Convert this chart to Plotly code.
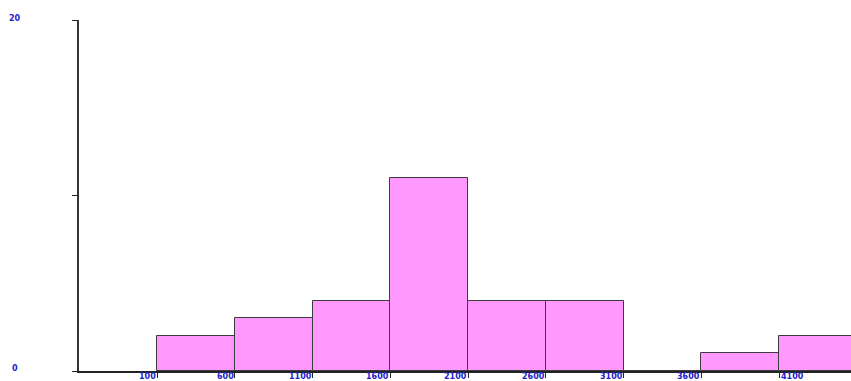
import plotly.graph_objects as go

# Histogram bins (left edges, width 500) and counts
bin_edges = [100, 600, 1100, 1600, 2100, 2600, 3100, 3600, 4100]
bin_width = 500
counts = [2, 3, 4, 11, 4, 4, 0, 1, 2]

x_tick_vals = [100, 600, 1100, 1600, 2100, 2600, 3100, 3600, 4100]
x_tick_text = ["100", "600", "1100", "1600", "2100", "2600", "3100", "3600", "4100"]
y_tick_vals = [0, 10, 20]
y_label_vals = [0, 20]

W, H = 851, 381
ML, MR, MT, MB = 79, 0, 20, 10

label_font = dict(family="DejaVu Sans", size=8, color="#2323c8")

centers = [e + bin_width / 2 for e in bin_edges]

fig = go.Figure(
    go.Bar(
        x=centers,
        y=counts,
        width=[bin_width] * len(counts),
        marker=dict(color="#ff99ff", line=dict(color="#3c3c3c", width=1)),
        hoverinfo="skip",
    )
)

fig.update_xaxes(
    range=[-402, 4563],
    showgrid=False,
    zeroline=False,
    showline=True,
    linecolor="#222222",
    linewidth=2,
    ticks="outside",
    ticklen=5,
    tickcolor="#222222",
    tickvals=x_tick_vals,
    showticklabels=False,
)
fig.update_yaxes(
    range=[0, 20],
    showgrid=False,
    zeroline=False,
    showline=True,
    linecolor="#333333",
    linewidth=2,
    ticks="outside",
    ticklen=5,
    tickcolor="#222222",
    tickvals=y_tick_vals,
    showticklabels=False,
)

annotations = []
for v, t in zip(x_tick_vals, x_tick_text):
    last = v == x_tick_vals[-1]
    annotations.append(dict(
        x=v, xref="x", y=0, yref="paper",
        text="<b>%s</b>" % t, showarrow=False,
        xanchor="left" if last else "right", yanchor="top",
        xshift=1 if last else 0, yshift=0,
        font=label_font, borderpad=0,
    ))
for v in y_label_vals:
    annotations.append(dict(
        x=(15 - ML) / (W - ML - MR), xref="paper", y=v, yref="y",
        text="<b>%d</b>" % v, showarrow=False,
        xanchor="center", yanchor="middle",
        yshift=3 if v == 0 else 2,
        font=label_font, borderpad=0,
    ))

fig.update_layout(
    width=W, height=H,
    margin=dict(l=ML, r=MR, t=MT, b=MB),
    paper_bgcolor="white",
    plot_bgcolor="white",
    showlegend=False,
    bargap=0,
    annotations=annotations,
)

fig.write_html("out.html")
